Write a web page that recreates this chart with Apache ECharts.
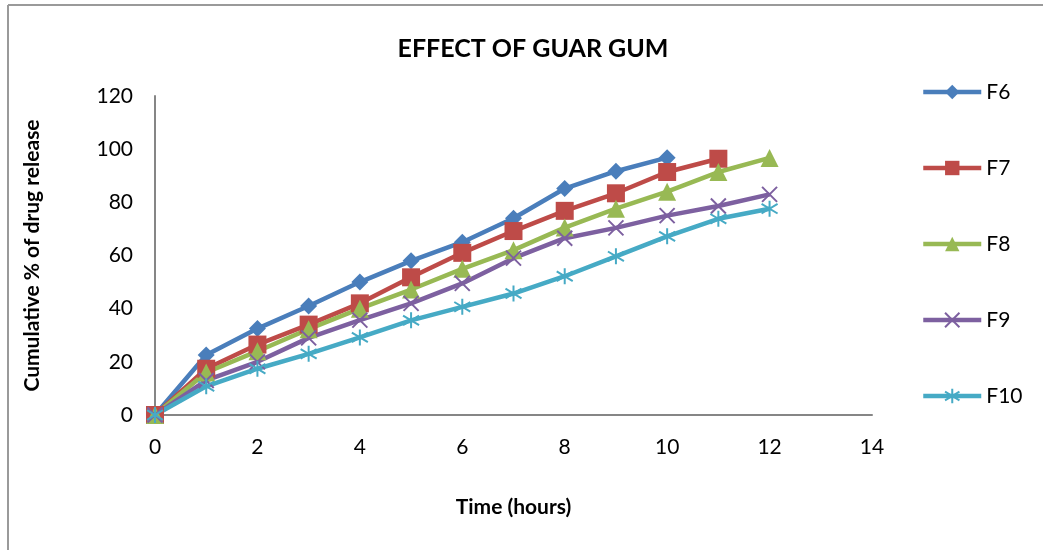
<!DOCTYPE html>
<html><head><meta charset="utf-8">
<script src="https://cdn.jsdelivr.net/npm/echarts@6/dist/echarts.min.js"></script>
<style>html,body{margin:0;padding:0;background:#fff}#c{width:1043px;height:550px}</style>
</head><body><div id="c"></div>
<script>
const hours = [0,1,2,3,4,5,6,7,8,9,10,11,12];
const seriesNames = ['F6','F7','F8','F9','F10'];
const F6  = [0, 22.6, 32.5, 41, 50, 58, 65, 74, 85.2, 91.7, 96.8];
const F7  = [0, 17.4, 26.5, 34, 42, 51.8, 61, 69.2, 76.8, 83.4, 91.4, 96.4];
const F8  = [0, 16, 24, 32.3, 40, 47.2, 55, 62, 70.5, 77.6, 84, 91.4, 96.7];
const F9  = [0, 13, 20, 29, 35.7, 42, 49.5, 59, 66.5, 70.4, 75, 78.6, 83];
const F10 = [0, 10.8, 17.4, 23, 29.2, 35.6, 40.7, 45.7, 52.2, 59.7, 67.2, 73.8, 77.6];
const xTicks = [0,2,4,6,8,10,12,14];
const yTicks = [0,20,40,60,80,100,120];

const values = [F6,F7,F8,F9,F10];
const colors = ['#4a7ebb','#be4b48','#98b954','#7d60a0','#46aac5'];
const symbols = ['diamond','rect','triangle','path://M0,0L10,10M10,0L0,10','path://M5,0L5,10M0,2L10,8M10,2L0,8'];
const sizes = [17,18,18,15,16];
const font = 'Lato, "Open Sans", sans-serif';

const chart = echarts.init(document.getElementById('c'));
chart.setOption({
  animation:false,
  backgroundColor:'#fff',
  title:{text:'EFFECT OF GUAR GUM', left:528, top:31, textAlign:'center',
    textStyle:{fontFamily:font,fontWeight:'bold',fontSize:25,color:'#000'}},
  grid:{left:155, right:171, top:96, bottom:135},
  legend:{orient:'vertical', left:916, top:76, itemWidth:58, itemHeight:18, itemGap:54,
    lineStyle:{width:4.5},
    textStyle:{fontFamily:font,fontSize:21,color:'#000',lineHeight:22},
    data:seriesNames},
  xAxis:{type:'value', min:xTicks[0], max:xTicks[xTicks.length-1], interval:2,
    name:'Time (hours)', nameLocation:'middle', nameGap:82,
    nameTextStyle:{fontFamily:font,fontWeight:'bold',fontSize:21,color:'#000'},
    axisLine:{lineStyle:{color:'#868686',width:2}}, axisTick:{show:false}, splitLine:{show:false},
    axisLabel:{fontFamily:font,fontSize:21,color:'#000',margin:22}},
  yAxis:{type:'value', min:yTicks[0], max:yTicks[yTicks.length-1], interval:20,
    name:'Cumulative % of drug release', nameLocation:'middle', nameGap:112, nameRotate:90,
    nameTextStyle:{fontFamily:font,fontWeight:'bold',fontSize:21,color:'#000'},
    axisLine:{show:true,lineStyle:{color:'#868686',width:2}}, axisTick:{show:false}, splitLine:{show:false},
    axisLabel:{fontFamily:font,fontSize:21,color:'#000',margin:22}},
  graphic:[
    {type:'line',shape:{x1:8,y1:5,x2:8,y2:550},style:{stroke:'#9a9a9a',lineWidth:2},z:100},
    {type:'line',shape:{x1:8,y1:5,x2:1043,y2:5},style:{stroke:'#9a9a9a',lineWidth:2},z:100}
  ],
  series: seriesNames.map((n,i)=>({
    name:n, type:'line', smooth:false,
    data: values[i].map((v,j)=>[hours[j],v]),
    symbol:symbols[i], symbolSize:sizes[i], showAllSymbol:true,
    lineStyle:{color:colors[i],width:4.5},
    itemStyle:{color:colors[i],borderColor:colors[i],borderWidth:(i>=3?2:0)}
  }))
});
</script></body></html>
